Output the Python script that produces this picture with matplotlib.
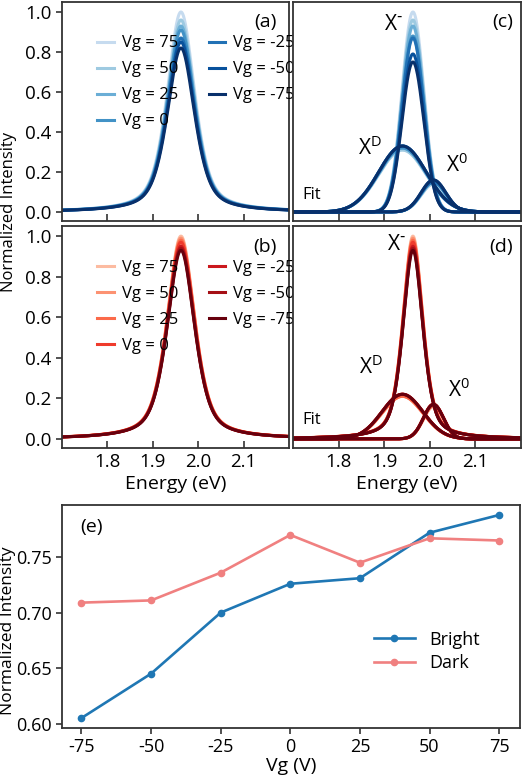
import numpy as np
import matplotlib
matplotlib.use('Agg')
from matplotlib import pyplot as plt

plt.rcParams['font.family'] = ['Open Sans', 'DejaVu Sans']
plt.rcParams['font.size'] = 13
plt.rcParams['mathtext.default'] = 'regular'
plt.rcParams['axes.unicode_minus'] = False

# gate voltages, legend order (lightest -> darkest)
vg = [75, 50, 25, 0, -25, -50, -75]
vg_labels = ['Vg = 75', 'Vg = 50', 'Vg = 25', 'Vg = 0', 'Vg = -25', 'Vg = -50', 'Vg = -75']

blues = ['#c6dbef', '#9ecae1', '#6baed6', '#4292c6', '#2171b5', '#08519c', '#08306b']
reds = ['#fcbba1', '#fc9272', '#fb6a4a', '#ef3b2c', '#cb181d', '#a50f15', '#67000d']

# measured PL peak (a) bright, (b) dark : peak height per Vg
peak_center = 1.962
peak_fwhm = 0.072
peak_eta = 0.55
bright_peak = [1.00, 0.96, 0.93, 0.91, 0.87, 0.85, 0.82]
dark_peak = [1.00, 0.99, 0.98, 0.97, 0.95, 0.94, 0.93]

# fit components (c) bright, (d) dark
xm_center, xd_center, x0_center = 1.963, 1.940, 2.008
bright_xm = [1.00, 0.96, 0.93, 0.88, 0.87, 0.79, 0.75]
bright_xd = [0.31, 0.31, 0.32, 0.32, 0.33, 0.33, 0.33]
bright_x0 = [0.14, 0.14, 0.15, 0.15, 0.15, 0.16, 0.16]
bright_sig = [0.024, 0.052, 0.027]   # X-, XD, X0 widths

dark_xm = [1.00, 0.99, 0.98, 0.97, 0.95, 0.94, 0.93]
dark_xd = [0.21, 0.21, 0.21, 0.22, 0.22, 0.22, 0.22]
dark_x0 = [0.16, 0.16, 0.17, 0.17, 0.17, 0.17, 0.17]
dark_sig = [0.022, 0.045, 0.022]

# panel (e)
vg_e = [-75, -50, -25, 0, 25, 50, 75]
bright_e = [0.605, 0.645, 0.700, 0.726, 0.731, 0.772, 0.788]
dark_e = [0.709, 0.711, 0.736, 0.770, 0.745, 0.767, 0.765]

E = np.linspace(1.70, 2.20, 600)


def pvoigt(x, c, a, w, eta):
    lor = 1 / (1 + (2 * (x - c) / w) ** 2)
    gau = np.exp(-4 * np.log(2) * ((x - c) / w) ** 2)
    return a * (eta * lor + (1 - eta) * gau)


def gauss(x, c, a, s):
    return a * np.exp(-(x - c) ** 2 / (2 * s ** 2))


W, H = 524, 778
fig = plt.figure(figsize=(W / 100, H / 100), dpi=100)


def add_ax(l, t, r, b):
    return fig.add_axes([l / W, 1 - b / H, (r - l) / W, (b - t) / H])


ax_a = add_ax(62, 2, 289, 221)
ax_c = add_ax(293, 2, 521, 221)
ax_b = add_ax(62, 226, 289, 448)
ax_d = add_ax(293, 226, 521, 448)
ax_e = add_ax(62, 505, 520, 728)

spine_col = '#333333'
for ax in [ax_a, ax_b, ax_c, ax_d, ax_e]:
    for s in ax.spines.values():
        s.set_linewidth(1.3)
        s.set_color(spine_col)

lw = 2.2
for i in range(7):
    ax_a.plot(E, pvoigt(E, peak_center, bright_peak[i], peak_fwhm, peak_eta),
              color=blues[i], lw=lw, label=vg_labels[i])
    ax_b.plot(E, pvoigt(E, peak_center, dark_peak[i], peak_fwhm, peak_eta),
              color=reds[i], lw=lw, label=vg_labels[i])
    ax_c.plot(E, gauss(E, xm_center, bright_xm[i], bright_sig[0]), color=blues[i], lw=lw)
    ax_c.plot(E, gauss(E, xd_center, bright_xd[i], bright_sig[1]), color=blues[i], lw=lw)
    ax_c.plot(E, gauss(E, x0_center, bright_x0[i], bright_sig[2]), color=blues[i], lw=lw)
    ax_d.plot(E, pvoigt(E, xm_center, dark_xm[i], 2.355 * dark_sig[0], 0.5), color=reds[i], lw=lw)
    ax_d.plot(E, gauss(E, xd_center, dark_xd[i], dark_sig[1]), color=reds[i], lw=lw)
    ax_d.plot(E, gauss(E, x0_center, dark_x0[i], dark_sig[2]), color=reds[i], lw=lw)

for ax in [ax_a, ax_b, ax_c, ax_d]:
    ax.set_xlim(1.70, 2.20)
    ax.set_ylim(-0.045, 1.05)
    ax.set_xticks([1.8, 1.9, 2.0, 2.1])
    ax.tick_params(axis='x', direction='in', length=5, width=1.2, color=spine_col)
    ax.tick_params(axis='y', direction='out', length=4, width=1.2, color=spine_col)

for ax in [ax_a, ax_b]:
    ax.set_yticks([0.0, 0.2, 0.4, 0.6, 0.8, 1.0])
    ax.set_yticklabels(['0.0', '0.2', '0.4', '0.6', '0.8', '1.0'], fontsize=13.5)
for ax in [ax_c, ax_d]:
    ax.set_yticks([])
for ax in [ax_a, ax_c]:
    ax.set_xticklabels([])
for ax in [ax_b, ax_d]:
    ax.set_xticklabels(['1.8', '1.9', '2.0', '2.1'], fontsize=13.5)
    ax.set_xlabel('Energy (eV)', labelpad=3, fontsize=14)

for ax in [ax_a, ax_b]:
    ax.legend(ncol=2, loc='upper left', bbox_to_anchor=(0.09, 0.916), frameon=False,
              handlelength=1.0, handletextpad=0.45, labelspacing=0.6,
              columnspacing=1.85, fontsize=12)

fig.text(9 / W, 1 - 212 / H, 'Normalized Intensity', rotation=90,
         ha='center', va='center', fontsize=12)

ax_a.text(0.947, 0.909, '(a)', transform=ax_a.transAxes, ha='right', va='center', fontsize=14)
ax_b.text(0.947, 0.905, '(b)', transform=ax_b.transAxes, ha='right', va='center', fontsize=14)
ax_c.text(0.965, 0.909, '(c)', transform=ax_c.transAxes, ha='right', va='center', fontsize=14)
ax_d.text(0.965, 0.905, '(d)', transform=ax_d.transAxes, ha='right', va='center', fontsize=14)

# component labels
xm_label = r'X$^{\text{-}}$'
ax_c.text(1.921, 0.935, xm_label, fontsize=15, ha='center', va='center')
ax_c.text(1.868, 0.32, r'X$^{D}$', fontsize=15, ha='center', va='center')
ax_c.text(2.059, 0.235, r'X$^{0}$', fontsize=15, ha='center', va='center')
ax_c.text(1.721, 0.085, 'Fit', fontsize=12, ha='left', va='center')

ax_d.text(1.927, 0.96, xm_label, fontsize=15, ha='center', va='center')
ax_d.text(1.872, 0.355, r'X$^{D}$', fontsize=15, ha='center', va='center')
ax_d.text(2.063, 0.24, r'X$^{0}$', fontsize=15, ha='center', va='center')
ax_d.text(1.721, 0.095, 'Fit', fontsize=12, ha='left', va='center')

# panel (e)
ax_e.plot(vg_e, bright_e, color='#1f77b4', marker='o', ms=4.5, lw=1.9, label='Bright')
ax_e.plot(vg_e, dark_e, color='#f08080', marker='o', ms=4.5, lw=1.9, label='Dark')
ax_e.set_xlim(-82, 82.5)
ax_e.set_ylim(0.596, 0.797)
ax_e.set_xticks(vg_e)
ax_e.set_xticklabels(['-75', '-50', '-25', '0', '25', '50', '75'], fontsize=13)
ax_e.set_yticks([0.60, 0.65, 0.70, 0.75])
ax_e.set_yticklabels(['0.60', '0.65', '0.70', '0.75'], fontsize=13)
ax_e.tick_params(direction='out', length=4, width=1.2, color=spine_col)
ax_e.set_xlabel('Vg (V)', fontsize=14)
ax_e.xaxis.set_label_coords(0.5, -0.13)
ax_e.set_ylabel('Normalized Intensity', fontsize=12.5)
ax_e.yaxis.set_label_coords(-0.100, 0.435)
ax_e.text(0.039, 0.90, '(e)', transform=ax_e.transAxes, ha='left', va='center', fontsize=14)
ax_e.legend(loc='upper left', bbox_to_anchor=(0.645, 0.51), frameon=False,
            handlelength=2.3, handletextpad=0.8, labelspacing=0.3, fontsize=13)

fig.savefig('out.png', dpi=100)
